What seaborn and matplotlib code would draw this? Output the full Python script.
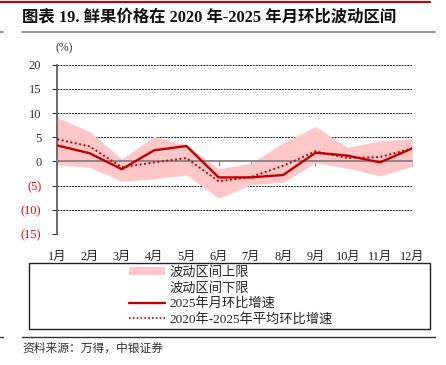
import numpy as np
import pandas as pd
import seaborn as sns
import matplotlib.pyplot as plt
from matplotlib.lines import Line2D
from matplotlib.patches import Patch, Rectangle

# data (%)
months = ["1月", "2月", "3月", "4月", "5月", "6月", "7月", "8月", "9月", "10月", "11月", "12月"]
upper = [9.1, 6.2, 0.5, 5.2, 3.4, -1.5, -0.4, 3.9, 7.2, 2.9, 4.3, 4.7]
lower = [-0.7, -1.2, -4.1, -3.6, -2.8, -7.6, -4.8, -4.3, -0.3, -1.4, -3.0, -1.0]
growth_2025 = [3.3, 1.7, -1.6, 2.3, 3.2, -3.3, -3.3, -2.8, 1.8, 1.2, -0.2, 2.7]
avg_2020_2025 = [4.6, 3.1, -1.2, -0.2, 0.7, -4.1, -3.2, -0.9, 2.1, 0.7, 0.9, 2.7]
yticks = [-15, -10, -5, 0, 5, 10, 15, 20]
ytick_labels = ["(15)", "(10)", "(5)", "0", "5", "10", "15", "20"]

df = pd.DataFrame({
    "pos": np.arange(len(months)),
    "upper": upper,
    "lower": lower,
    "g2025": growth_2025,
    "avg": avg_2020_2025,
})

sns.set_theme(style="white")
plt.rcParams['font.family'] = ['Liberation Serif', 'Noto Sans CJK SC']
plt.rcParams['axes.unicode_minus'] = False

RED = "#c00000"
PINK = "#ffc7c7"

fig = plt.figure(figsize=(4.46, 3.65), dpi=100)
ax = fig.add_axes([57.3 / 446, 1 - 234 / 365, 355 / 446, 169.3 / 365])

ax.fill_between(df["pos"], df["lower"], df["upper"], color=PINK, lw=0, zorder=2)
sns.lineplot(data=df, x="pos", y="g2025", ax=ax, color=RED, lw=1.7, zorder=4)
sns.lineplot(data=df, x="pos", y="avg", ax=ax, color=RED, lw=1.4, ls=(0, (1, 1.3)), zorder=4)

ax.set_xlim(0, 11)
ax.set_ylim(-15, 20)
ax.set_yticks(yticks)
ax.set_yticklabels(ytick_labels)
for lbl, v in zip(ax.get_yticklabels(), yticks):
    lbl.set_color("#ff0000" if v < 0 else "#333333")
ax.tick_params(axis="y", left=True, length=3.5, width=0.8, color="#333333",
               pad=8, labelsize=9)
for v in yticks:
    if v != 0:
        ax.axhline(v, color="#222222", lw=0.7, ls=(0, (2, 1)), zorder=1)

ax.spines["bottom"].set_position(("data", 0))
ax.spines["bottom"].set_color("#7f7f7f")
ax.spines["bottom"].set_zorder(3)
ax.spines["left"].set_color("#595959")
ax.spines["top"].set_visible(False)
ax.spines["right"].set_visible(False)
ax.set_xticks(df["pos"])
ax.tick_params(axis="x", bottom=True, direction="out", length=3.5, width=0.8,
               color="#7f7f7f", labelbottom=False)
ax.set_xlabel("")
ax.set_ylabel("")

sec = ax.secondary_xaxis("bottom")
sec.set_xticks(df["pos"])
sec.set_xticklabels(months)
sec.tick_params(length=0, pad=12, labelsize=8.8, labelcolor="#222222")
sec.spines["bottom"].set_visible(False)

fig.text(56 / 446, 1 - 48 / 365, "(%)", fontsize=8.5, va="center", color="#333333")

# title and page decorations
fig.text(22 / 446, 1 - 17 / 365, "图表 19. 鲜果价格在 2020 年-2025 年月环比波动区间",
         fontsize=11.8, fontweight="bold", va="center", color="#111111")
fig.add_artist(Line2D([0, 430 / 446], [1 - 1.5 / 365] * 2, color="#c00000", lw=1.5))
fig.add_artist(Line2D([22 / 446, 435 / 446], [1 - 32 / 365] * 2, color="#7f7f7f", lw=1.2))
fig.add_artist(Line2D([0, 3 / 446], [1 - 32 / 365] * 2, color="#7f7f7f", lw=1.2))
fig.add_artist(Line2D([22 / 446, 435 / 446], [1 - 337 / 365] * 2, color="#333333", lw=1.0))
fig.add_artist(Line2D([0, 3 / 446], [1 - 337 / 365] * 2, color="#333333", lw=1.0))
fig.text(22 / 446, 1 - 349 / 365, "资料来源：万得，中银证券", fontsize=8.5,
         style="italic", va="center", color="#333333")

# legend box
fig.add_artist(Rectangle((29 / 446, 1 - 329 / 365), 401 / 446, 66 / 365,
                         transform=fig.transFigure, fill=False, ec="#222222", lw=1))
handles = [
    Patch(facecolor=PINK, edgecolor="none"),
    Patch(facecolor="none", edgecolor="none"),
    Line2D([], [], color=RED, lw=1.7),
    Line2D([], [], color=RED, lw=1.2, ls=(0, (1, 1.3))),
]
labels = ["波动区间上限", "波动区间下限", "2025年月环比增速", "2020年-2025年平均环比增速"]
fig.legend(handles, labels, loc="center", bbox_to_anchor=(231 / 446, 1 - 296 / 365),
           frameon=False, fontsize=9.5, handlelength=2.7, handletextpad=0.4,
           labelspacing=0.22, handleheight=0.6, borderpad=0)

fig.savefig("out.png", dpi=100)
plt.close(fig)
